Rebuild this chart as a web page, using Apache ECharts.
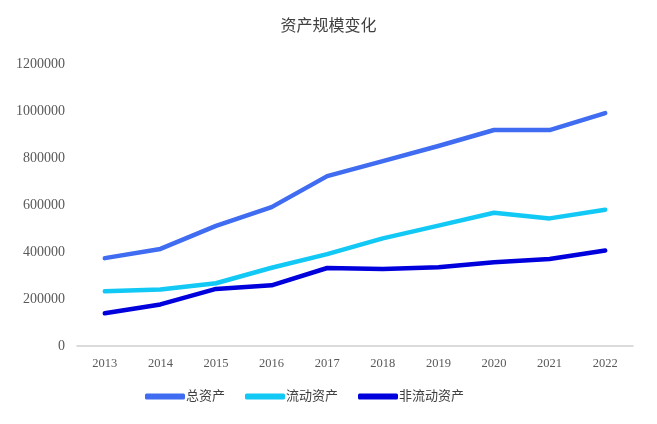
<!DOCTYPE html>
<html><head><meta charset="utf-8">
<script src="https://cdn.jsdelivr.net/npm/echarts@6/dist/echarts.min.js"></script>
<style>html,body{margin:0;padding:0;background:#fff}#c{width:657px;height:424px}</style>
</head><body><div id="c"></div>
<script>
const title = '资产规模变化';
const years = ['2013','2014','2015','2016','2017','2018','2019','2020','2021','2022'];
const totalAssets = [374000, 413000, 511000, 591000, 723000, 787000, 851000, 919000, 919000, 991000];
const currentAssets = [233000, 240000, 267000, 333000, 391000, 458000, 512000, 567000, 543000, 580000];
const nonCurrentAssets = [139000, 177000, 243000, 258000, 332000, 328000, 335000, 356000, 370000, 406000];
const seriesNames = ['总资产', '流动资产', '非流动资产'];
const colors = ['#3F6CF0', '#12C8F5', '#0000DD'];

const chart = echarts.init(document.getElementById('c'));
const cjk = '"Liberation Serif", "Noto Sans CJK SC", serif';
const mk = (name, data, color) => ({
  name, type: 'line', data, symbol: 'none', smooth: false,
  lineStyle: { width: 4.5, color, cap: 'round', join: 'round' },
  itemStyle: { color }
});
chart.setOption({
  animation: false,
  title: { text: title, left: 'center', top: 14,
    textStyle: { fontFamily: cjk, fontSize: 16, fontWeight: 'normal', color: '#404040' } },
  legend: { bottom: 16, left: 140, itemWidth: 40, itemHeight: 6, itemGap: 20,
    icon: 'roundRect',
    textStyle: { fontFamily: cjk, fontSize: 13, color: '#404040', padding: [0,0,0,-4] },
    data: seriesNames },
  grid: { left: 77, right: 24, top: 64, bottom: 78 },
  xAxis: { type: 'category', data: years, boundaryGap: true,
    axisLine: { lineStyle: { color: '#D0D0D0', width: 1.5 } },
    axisTick: { show: false },
    axisLabel: { fontFamily: '"Liberation Serif", serif', fontSize: 12.5, color: '#595959', margin: 11 } },
  yAxis: { type: 'value', min: 0, max: 1200000, interval: 200000,
    splitLine: { show: false }, axisLine: { show: false }, axisTick: { show: false },
    axisLabel: { fontFamily: '"Liberation Serif", serif', fontSize: 14, color: '#595959', margin: 12,
      formatter: v => String(v) } },
  series: [
    mk(seriesNames[0], totalAssets, colors[0]),
    mk(seriesNames[1], currentAssets, colors[1]),
    mk(seriesNames[2], nonCurrentAssets, colors[2])
  ]
});
</script></body></html>
